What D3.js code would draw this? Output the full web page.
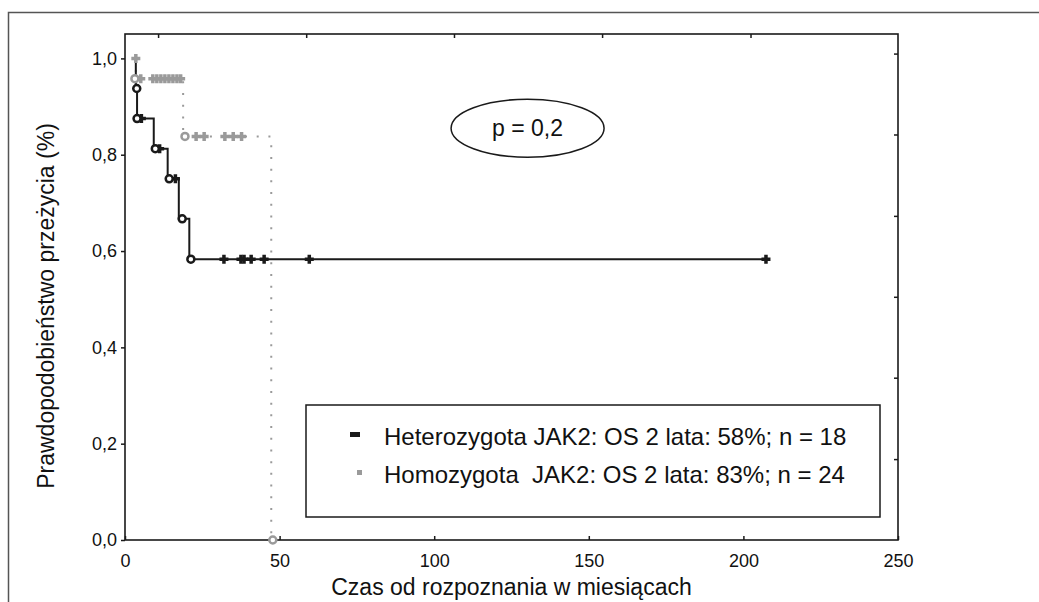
<!DOCTYPE html>
<html lang="pl">
<head>
<meta charset="UTF-8">
<title>Krzywe przeżycia JAK2</title>
<script src="https://d3js.org/d3.v7.min.js"></script>
<style>
    body { margin: 0; background: #fff; }
    svg { font-family: "Liberation Sans", Arial, sans-serif; }
    .tick-label { font-size: 18px; fill: #111; }
    .title { font-size: 23px; fill: #111; }
    .legend-text { font-size: 24px; fill: #111; white-space: pre; }
</style>
</head>
<body>
<div id="chart"></div>
<script>

// --- Heterozygota (czarna linia) ---
var hetTime = [3.5, 3.5, 3.9, 9.3, 13.8, 17.4, 20.8, 207.3];
var hetSurv = [1.0, 0.9375, 0.875, 0.8125, 0.75, 0.667, 0.583, 0.583];
var hetEventTime = [3.8, 3.9, 9.8, 14.3, 18.5, 21.3];
var hetEventSurv = [0.9375, 0.875, 0.8125, 0.75, 0.667, 0.583];
var hetCensTime = [5.3, 11.2, 16.3, 32.0, 37.5, 38.5, 40.8, 45.0, 59.6, 207.3];
var hetCensSurv = [0.875, 0.8125, 0.75, 0.583, 0.583, 0.583, 0.583, 0.583, 0.583, 0.583];

// --- Homozygota (szara, kropkowana) ---
var homTime = [3.5, 3.5, 18.8, 47.3];
var homSurv = [1.0, 0.958, 0.838, 0.0];
var homEventTime = [3.2, 19.4, 47.8];
var homEventSurv = [0.958, 0.838, 0.0];
var homCensTime = [3.5, 5.1, 9.0, 10.3, 11.6, 12.9, 14.2, 15.5, 16.8, 18.0, 23.0, 25.6, 32.3, 35.0, 37.7];
var homCensSurv = [1.0, 0.958, 0.958, 0.958, 0.958, 0.958, 0.958, 0.958, 0.958, 0.958, 0.838, 0.838, 0.838, 0.838, 0.838];

// osie
var xTicks = [0, 50, 100, 150, 200, 250];
var yTicks = [0, 0.2, 0.4, 0.6, 0.8, 1.0];
var topTicks = [10.7, 58.6, 106.4, 154.3, 202.3];
var rightTicks = [0.168, 0.337, 0.505, 0.673, 0.842, 1.01];

var legendLabels = ["Heterozygota JAK2: OS 2 lata: 58%; n = 18", "Homozygota  JAK2: OS 2 lata: 83%; n = 24"];
var pText = "p = 0,2";

var width = 1039, height = 602;
var margin = {top: 34, right: 141, bottom: 62, left: 125};
var w = width - margin.left - margin.right,
    h = height - margin.top - margin.bottom;

var black = "#1a1a1a", grey = "#9a9a9a";

var svg = d3.select("#chart").append("svg")
    .attr("width", width)
    .attr("height", height);

// zewnętrzna ramka (tylko lewa i górna krawędź widoczna)
svg.append("path")
    .attr("d", "M8.5," + height + "V12.5H" + width)
    .attr("fill", "none")
    .attr("stroke", "#555")
    .attr("stroke-width", 1.5);

var g = svg.append("g")
    .attr("transform", "translate(" + margin.left + "," + margin.top + ")");

var x = d3.scaleLinear().domain([0, 250]).range([0, w]);
var y = d3.scaleLinear().domain([0, 1.0]).range([h, h - 481.6]);

// ramka wykresu
g.append("rect")
    .attr("width", w).attr("height", h)
    .attr("fill", "none").attr("stroke", black).attr("stroke-width", 1.6);

// lewa oś
var yAxis = g.append("g")
    .call(d3.axisLeft(y).tickValues(yTicks).tickSize(4));
yAxis.select(".domain").remove();
yAxis.selectAll("text").attr("class", "tick-label").attr("x", -8)
    .text(function(d) { return d.toFixed(1).replace(".", ","); });

// dolna oś (znaczniki do wewnątrz)
var xAxis = g.append("g")
    .attr("transform", "translate(0," + h + ")")
    .call(d3.axisBottom(x).tickValues(xTicks).tickSize(-4).tickPadding(14));
xAxis.select(".domain").remove();
xAxis.selectAll("text").attr("class", "tick-label");

// górna i prawa oś - tylko znaczniki
var topAxis = g.append("g")
    .call(d3.axisTop(x).tickValues(topTicks).tickSize(-4).tickFormat(""));
topAxis.select(".domain").remove();
var rightAxis = g.append("g")
    .attr("transform", "translate(" + w + ",0)")
    .call(d3.axisRight(y).tickValues(rightTicks).tickSize(-4).tickFormat(""));
rightAxis.select(".domain").remove();
g.selectAll(".tick line").attr("stroke", black).attr("stroke-width", 1.5);

// tytuły osi
svg.append("text")
    .attr("class", "title")
    .attr("text-anchor", "middle")
    .attr("x", margin.left + w / 2)
    .attr("y", 595)
    .text("Czas od rozpoznania w miesiącach");

svg.append("text")
    .attr("class", "title")
    .attr("text-anchor", "middle")
    .attr("transform", "translate(54," + 306 + ") rotate(-90)")
    .text("Prawdopodobieństwo przeżycia (%)");

// linie schodkowe
var line = d3.line()
    .x(function(d) { return x(d[0]); })
    .y(function(d) { return y(d[1]); })
    .curve(d3.curveStepAfter);

g.append("path")
    .datum(d3.zip(homTime, homSurv))
    .attr("d", line)
    .attr("fill", "none")
    .attr("stroke", grey)
    .attr("stroke-width", 2)
    .attr("stroke-dasharray", "2,9.7");

g.append("path")
    .datum(d3.zip(hetTime, hetSurv))
    .attr("d", line)
    .attr("fill", "none")
    .attr("stroke", black)
    .attr("stroke-width", 2);

// znaczniki
var crossPath = "M-4.5,0H4.5M0,-4.5V4.5";

function drawCens(times, surv, color) {
    g.append("g").selectAll("path")
        .data(d3.zip(times, surv))
        .enter().append("path")
        .attr("transform", function(d) { return "translate(" + x(d[0]) + "," + y(d[1]) + ")"; })
        .attr("d", crossPath)
        .attr("stroke", color)
        .attr("stroke-width", 3.5);
}

function drawEvents(times, surv, color) {
    g.append("g").selectAll("circle")
        .data(d3.zip(times, surv))
        .enter().append("circle")
        .attr("cx", function(d) { return x(d[0]); })
        .attr("cy", function(d) { return y(d[1]); })
        .attr("r", 3.5)
        .attr("fill", "#fff")
        .attr("stroke", color)
        .attr("stroke-width", 2.5);
}

drawCens(homCensTime, homCensSurv, grey);
drawEvents(homEventTime, homEventSurv, grey);
drawCens(hetCensTime, hetCensSurv, black);
drawEvents(hetEventTime, hetEventSurv, black);

// p = 0,2
g.append("ellipse")
    .attr("cx", x(130.2)).attr("cy", y(0.855))
    .attr("rx", 76.5).attr("ry", 29)
    .attr("fill", "none").attr("stroke", black).attr("stroke-width", 1.5);
g.append("text")
    .attr("class", "title")
    .attr("text-anchor", "middle")
    .attr("x", x(130.2)).attr("y", y(0.855) + 8)
    .text(pText);

// legenda
var lg = svg.append("g").attr("transform", "translate(306,405)");
lg.append("rect")
    .attr("width", 574).attr("height", 112)
    .attr("fill", "#fff").attr("stroke", black).attr("stroke-width", 1.5);

lg.append("rect").attr("x", 44).attr("y", 27).attr("width", 10).attr("height", 5).attr("fill", black);
lg.append("rect").attr("x", 51).attr("y", 65).attr("width", 5).attr("height", 5).attr("fill", grey);

lg.selectAll("text.legend-text")
    .data(legendLabels)
    .enter().append("text")
    .attr("class", "legend-text")
    .attr("x", 78)
    .attr("y", function(d, i) { return 40 + i * 38; })
    .text(function(d) { return d; });

</script>
</body>
</html>
